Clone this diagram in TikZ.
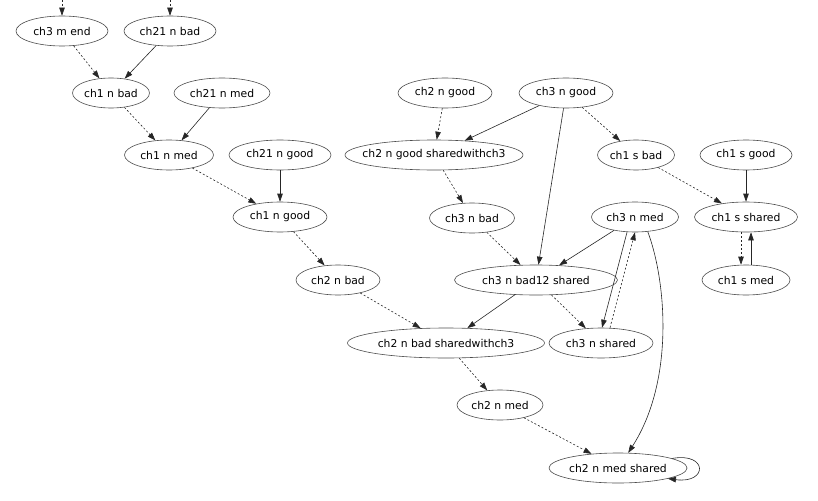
\documentclass[tikz,border=0pt]{standalone}
\usepackage{fontspec}
\setmainfont{DejaVu Sans}
\usetikzlibrary{shapes.geometric,arrows.meta}
\begin{document}
\begin{tikzpicture}[x=1pt,y=-1pt,
  nd/.style={ellipse,draw=black!70,line width=0.6pt,inner sep=0pt,minimum height=30pt,font=\fontsize{10.8}{12}\selectfont},
  cn/.style={draw=black!85,line width=0.6pt,-{Triangle[length=8pt,width=5.5pt]}},
  dt/.style={cn,dash pattern=on 2pt off 2pt}]
\useasboundingbox (0,0) rectangle (818,500);
\node[nd,minimum width=92pt] (a) at (62,31) {ch3 m end};
\node[nd,minimum width=92pt] (b) at (170,31) {ch21 n bad};
\node[nd,minimum width=77pt] (c) at (111,93) {ch1 n bad};
\node[nd,minimum width=96pt] (d) at (222,93) {ch21 n med};
\node[nd,minimum width=89pt] (e) at (169,155) {ch1 n med};
\node[nd,minimum width=102pt] (f) at (280,155) {ch21 n good};
\node[nd,minimum width=94pt] (g) at (280,217) {ch1 n good};
\node[nd,minimum width=84pt] (h) at (338,280) {ch2 n bad};
\node[nd,minimum width=197pt,inner xsep=-4pt] (i) at (446,343) {ch2 n bad sharedwithch3};
\node[nd,minimum width=86pt] (j) at (500,405) {ch2 n med};
\node[nd,minimum width=138pt] (k) at (618,468) {ch2 n med shared};
\node[nd,minimum width=94pt] (l) at (445,93) {ch2 n good};
\node[nd,minimum width=94pt] (m) at (566,93) {ch3 n good};
\node[nd,minimum width=178pt,inner xsep=-12pt] (n) at (434,155) {ch2 n good sharedwithch3};
\node[nd,minimum width=77pt] (o) at (636,155) {ch1 s bad};
\node[nd,minimum width=92pt] (p) at (746,155) {ch1 s good};
\node[nd,minimum width=85pt] (q) at (472,218) {ch3 n bad};
\node[nd,minimum width=87pt] (r) at (635,217) {ch3 n med};
\node[nd,minimum width=103pt] (s) at (746,217) {ch1 s shared};
\node[nd,minimum width=88pt] (t) at (746,280) {ch1 s med};
\node[nd,minimum width=163pt] (u) at (536,280) {ch3 n bad12 shared};
\node[nd,minimum width=104pt] (v) at (601,343) {ch3 n shared};
\coordinate (ta) at (62,0);
\coordinate (tb) at (170,0);
\draw[dt] (ta) -- (a);
\draw[dt] (tb) -- (b);
\draw[dt] (a) -- (c);
\draw[cn] (b) -- (c);
\draw[dt] (c) -- (e);
\draw[cn] (d) -- (e);
\draw[dt] (e) -- (g);
\draw[cn] (f) -- (g);
\draw[dt] (g) -- (h);
\draw[dt] (h) -- (i);
\draw[cn] (u) -- (i);
\draw[dt] (i) -- (j);
\draw[dt] (j) -- (k);
\draw[cn] (r.-49) .. controls (666,280) and (675,380) .. (k.56);
\draw[cn] (k.10) .. controls (708,452) and (708,484) .. (k.-12);
\draw[dt] (l) -- (n);
\draw[cn] (m) -- (n);
\draw[cn] (m) -- (u);
\draw[dt] (m) -- (o);
\draw[dt] (n) -- (q);
\draw[dt] (q) -- (u);
\draw[cn] (r) -- (u);
\draw[cn] ([xshift=-8pt]r.south) -- ([xshift=1pt]v.north);
\draw[dt] ([xshift=9pt]v.north) -- (r.south);
\draw[dt] (u) -- (v);
\draw[dt] (o) -- (s);
\draw[cn] (p) -- (s);
\draw[dt] ([xshift=-5pt]s.south) -- ([xshift=-5pt]t.north);
\draw[cn] ([xshift=5pt]t.north) -- ([xshift=5pt]s.south);
\end{tikzpicture}
\end{document}
